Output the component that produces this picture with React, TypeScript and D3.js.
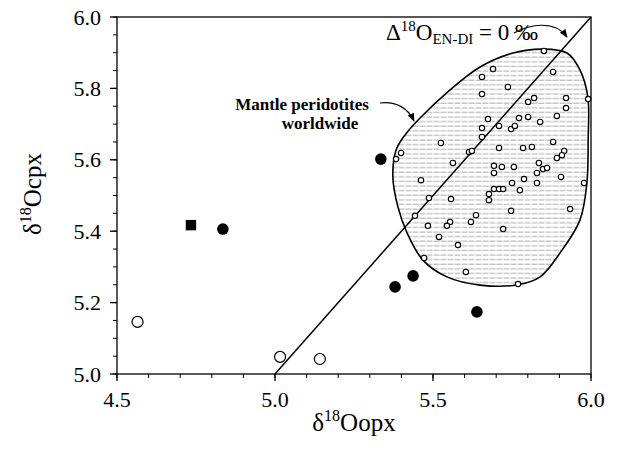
import React from "react";
import * as d3 from "d3";

const xTicks = [4.5, 5.0, 5.5, 6.0];
const yTicks = [5.0, 5.2, 5.4, 5.6, 5.8, 6.0];

// Samples of this study
const filledCircles: [number, number][] = [
  [4.835, 5.406],
  [5.335, 5.602],
  [5.380, 5.244],
  [5.437, 5.275],
  [5.639, 5.174],
];
const filledSquares: [number, number][] = [[4.734, 5.417]];
const openLarge: [number, number][] = [
  [4.565, 5.146],
  [5.016, 5.048],
  [5.142, 5.042],
];

// Mantle peridotites worldwide
const peridotites: [number, number][] = [
  [5.851, 5.905], [5.690, 5.854], [5.655, 5.832], [5.880, 5.846], [5.737, 5.804],
  [5.655, 5.784], [5.921, 5.773], [5.820, 5.773], [5.801, 5.762], [5.991, 5.770],
  [5.921, 5.745], [5.674, 5.714], [5.772, 5.717], [5.801, 5.720], [5.839, 5.706],
  [5.892, 5.723], [5.655, 5.689], [5.709, 5.695], [5.747, 5.686], [5.759, 5.695],
  [5.655, 5.664], [5.525, 5.647], [5.399, 5.619], [5.383, 5.602], [5.614, 5.622],
  [5.623, 5.625], [5.709, 5.633], [5.785, 5.633], [5.813, 5.636], [5.880, 5.650],
  [5.915, 5.625], [5.908, 5.613], [5.892, 5.605], [5.563, 5.591], [5.693, 5.583],
  [5.718, 5.580], [5.756, 5.580], [5.835, 5.591], [5.848, 5.574], [5.861, 5.577],
  [5.693, 5.563], [5.829, 5.563], [5.905, 5.552], [5.462, 5.543], [5.750, 5.535],
  [5.788, 5.546], [5.829, 5.535], [5.978, 5.535], [5.693, 5.518], [5.709, 5.518],
  [5.722, 5.518], [5.775, 5.515], [5.677, 5.504], [5.677, 5.487], [5.487, 5.493],
  [5.557, 5.490], [5.747, 5.457], [5.934, 5.462], [5.443, 5.443], [5.636, 5.445],
  [5.484, 5.415], [5.554, 5.426], [5.544, 5.415], [5.620, 5.426], [5.722, 5.406],
  [5.519, 5.384], [5.579, 5.361], [5.472, 5.325], [5.604, 5.286], [5.769, 5.252],
];

// Outline of the peridotite field
const fieldOutline: [number, number][] = [
  [5.848, 5.910], [5.924, 5.899], [5.965, 5.852], [5.990, 5.776], [5.991, 5.655],
  [5.987, 5.535], [5.965, 5.431], [5.902, 5.339], [5.839, 5.272], [5.769, 5.250],
  [5.649, 5.249], [5.544, 5.272], [5.468, 5.319], [5.418, 5.395], [5.389, 5.468],
  [5.373, 5.552], [5.383, 5.627], [5.411, 5.669], [5.459, 5.717], [5.554, 5.796],
  [5.649, 5.860], [5.753, 5.899],
];

const oneToOne: [number, number][] = [[5.0, 5.0], [6.0, 6.0]];

const W = 621;
const H = 459;
const serif = "'Liberation Serif', 'Times New Roman', serif";

export default function App() {
  const x = d3.scaleLinear().domain([4.5, 6.0]).range([117, 591]);
  const y = d3.scaleLinear().domain([5.0, 6.0]).range([374, 17]);

  const xMinor = d3.range(4.5, 6.0001, 0.1).map((v) => +v.toFixed(2));
  const yMinor = d3.range(5.0, 6.0001, 0.05).map((v) => +v.toFixed(2));

  const outline = d3
    .line<[number, number]>()
    .x((d) => x(d[0]))
    .y((d) => y(d[1]))
    .curve(d3.curveCatmullRomClosed.alpha(0.5))(fieldOutline) as string;

  const diag = d3
    .line<[number, number]>()
    .x((d) => x(d[0]))
    .y((d) => y(d[1]))(oneToOne) as string;

  const x0 = x.range()[0];
  const x1 = x.range()[1];
  const y0 = y.range()[0];
  const y1 = y.range()[1];

  return (
    <svg
      width={W}
      height={H}
      style={{ position: "absolute", left: 0, top: 0, background: "#fff" }}
      fontFamily={serif}
    >
      <defs>
        <pattern id="hatch" width="7" height="4.6" patternUnits="userSpaceOnUse">
          <line x1="0" y1="2" x2="5" y2="2" stroke="#a0a0a0" strokeWidth="0.9" />
          <line x1="5" y1="2" x2="7" y2="2" stroke="#d0d0d0" strokeWidth="0.9" />
        </pattern>
        <clipPath id="plotclip">
          <rect x={x0} y={y1} width={x1 - x0} height={y0 - y1} />
        </clipPath>
        <marker id="arr" viewBox="0 0 10 10" refX="9" refY="5" markerWidth="7" markerHeight="7" orient="auto">
          <path d="M0,1 L10,5 L0,9 Z" fill="#000" />
        </marker>
      </defs>

      {/* frame */}
      <rect x={x0} y={y1} width={x1 - x0} height={y0 - y1} fill="none" stroke="#000" strokeWidth={1.3} />

      {/* field */}
      <g clipPath="url(#plotclip)">
        <path d={outline} fill="url(#hatch)" stroke="none" />
      </g>
      <path d={outline} fill="none" stroke="#000" strokeWidth={1.6} />

      {/* 1:1 line */}
      <path d={diag} fill="none" stroke="#000" strokeWidth={1.5} />

      {/* x ticks */}
      {xMinor.map((v) => (
        <line key={"xm" + v} x1={x(v)} x2={x(v)} y1={y0} y2={y0 + 4} stroke="#000" strokeWidth={1} />
      ))}
      {xTicks.map((v) => (
        <g key={"xt" + v}>
          <line x1={x(v)} x2={x(v)} y1={y0} y2={y0 + 7} stroke="#000" strokeWidth={1.3} />
          <text x={x(v)} y={y0 + 33} fontSize={22} textAnchor="middle">
            {v.toFixed(1)}
          </text>
        </g>
      ))}
      {/* y ticks */}
      {yMinor.map((v) => (
        <line key={"ym" + v} x1={x0 - 4} x2={x0} y1={y(v)} y2={y(v)} stroke="#000" strokeWidth={1} />
      ))}
      {yTicks.map((v) => (
        <g key={"yt" + v}>
          <line x1={x0 - 7} x2={x0} y1={y(v)} y2={y(v)} stroke="#000" strokeWidth={1.3} />
          <text x={x0 - 16} y={y(v) + 7.5} fontSize={22} textAnchor="end">
            {v.toFixed(1)}
          </text>
        </g>
      ))}

      {/* peridotites */}
      {peridotites.map((d, i) => (
        <circle key={"p" + i} cx={x(d[0])} cy={y(d[1])} r={2.7} fill="#fff" stroke="#000" strokeWidth={1.1} />
      ))}

      {/* samples */}
      {openLarge.map((d, i) => (
        <circle key={"o" + i} cx={x(d[0])} cy={y(d[1])} r={5.5} fill="#fff" stroke="#000" strokeWidth={1.2} />
      ))}
      {filledCircles.map((d, i) => (
        <circle key={"f" + i} cx={x(d[0])} cy={y(d[1])} r={5.8} fill="#000" />
      ))}
      {filledSquares.map((d, i) => (
        <rect key={"s" + i} x={x(d[0]) - 5.2} y={y(d[1]) - 5.2} width={10.4} height={10.4} fill="#000" />
      ))}

      {/* annotations */}
      <text x={302} y={110} fontSize={17} fontWeight="bold" textAnchor="middle">
        Mantle peridotites
      </text>
      <text x={320} y={129} fontSize={17} fontWeight="bold" textAnchor="middle">
        worldwide
      </text>
      <path d="M380,103 C396,101 408,108 414,121" fill="none" stroke="#000" strokeWidth={1.2} markerEnd="url(#arr)" />

      <text x={386} y={40} fontSize={23}>
        Δ<tspan fontSize={15} dy={-9}>18</tspan>
        <tspan dy={9}>O</tspan>
        <tspan fontSize={15} dy={4}>EN-DI</tspan>
        <tspan dy={-4}> = 0 ‰</tspan>
      </text>
      <path d="M514,33 C530,24 555,20 567,37" fill="none" stroke="#000" strokeWidth={1.2} markerEnd="url(#arr)" />

      {/* axis titles */}
      <text x={354} y={431} fontSize={25} textAnchor="middle">
        δ<tspan fontSize={16} dy={-10}>18</tspan>
        <tspan dy={10}>Oopx</tspan>
      </text>
      <text transform={`translate(41,194) rotate(-90)`} fontSize={25} textAnchor="middle">
        δ<tspan fontSize={16} dy={-10}>18</tspan>
        <tspan dy={10}>Ocpx</tspan>
      </text>
    </svg>
  );
}
